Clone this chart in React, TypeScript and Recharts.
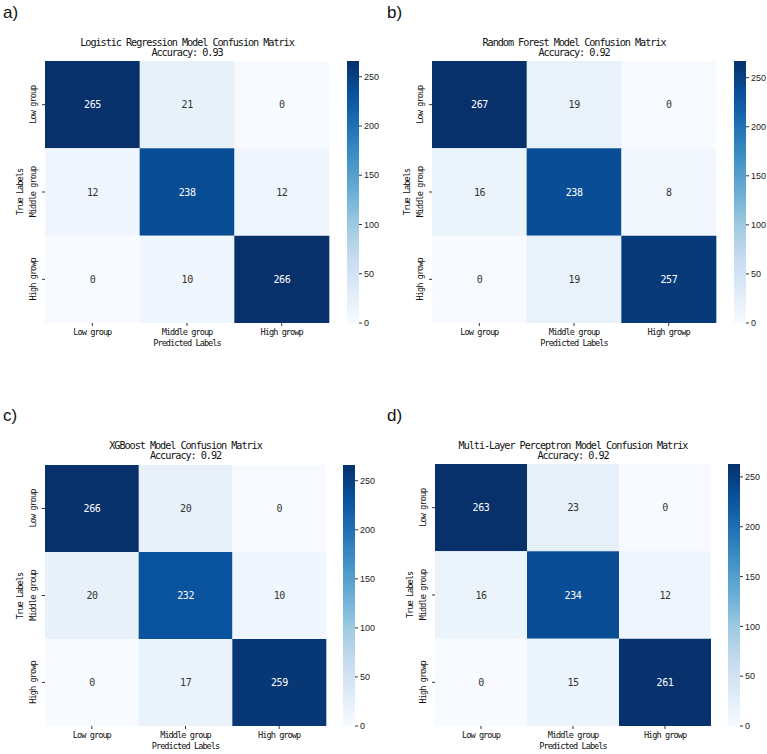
import React from "react"
import { BarChart, Bar, XAxis, YAxis, Cell, LabelList } from "recharts"

// confusion matrices: rows = true class, columns = predicted class
const classLabels = ["Low group", "Middle group", "High growp"]
const lrMatrix = [
    [265, 21, 0],
    [12, 238, 12],
    [0, 10, 266]
]
const rfMatrix = [
    [267, 19, 0],
    [16, 238, 8],
    [0, 19, 257]
]
const xgbMatrix = [
    [266, 20, 0],
    [20, 232, 10],
    [0, 17, 259]
]
const mlpMatrix = [
    [263, 23, 0],
    [16, 234, 12],
    [0, 15, 261]
]
const modelNames = ["Logistic Regression", "Random Forest", "XGBoost", "Multi-Layer Perceptron"]
const accuracies = [0.93, 0.92, 0.92, 0.92]
const colorbarTicks = [0, 50, 100, 150, 200, 250]

// matplotlib "Blues"
const BLUES = ["#f7fbff", "#deebf7", "#c6dbef", "#9ecae1", "#6baed6", "#4292c6", "#2171b5", "#08519c", "#08306b"]

const hexToRgb = (h: string) => [1, 3, 5].map(i => parseInt(h.slice(i, i + 2), 16))

function bluesRgb(t: number) {
    const c = Math.max(0, Math.min(1, t)) * (BLUES.length - 1)
    const i = Math.min(Math.floor(c), BLUES.length - 2)
    const f = c - i
    const a = hexToRgb(BLUES[i])
    const b = hexToRgb(BLUES[i + 1])
    return a.map((v, k) => Math.round(v + (b[k] - v) * f))
}

const rgbStr = (c: number[]) => `rgb(${c[0]},${c[1]},${c[2]})`

function luminance(c: number[]) {
    const lin = c.map(v => {
        const s = v / 255
        return s <= 0.03928 ? s / 12.92 : Math.pow((s + 0.055) / 1.055, 2.4)
    })
    return 0.2126 * lin[0] + 0.7152 * lin[1] + 0.0722 * lin[2]
}

const MONO = "'DejaVu Sans Mono', monospace"
const SANS = "'Liberation Sans', Arial, sans-serif"

type Box = { x: number; y: number; w: number; h: number }

type PanelProps = {
    id: string
    letter: string
    letterPos: [number, number]
    title: string
    accuracy: number
    matrix: number[][]
    heat: Box
    cbarX: number
    titleY: number
}

function Panel({ id, letter, letterPos, title, accuracy, matrix, heat, cbarX, titleY }: PanelProps) {
    const vmax = Math.max(...matrix.flat())
    const rows = classLabels.map((name, c) => ({
        name,
        r0: 1,
        r1: 1,
        r2: 1,
        v0: matrix[0][c],
        v1: matrix[1][c],
        v2: matrix[2][c]
    }))

    const mL = 20
    const yW = 25
    const mT = 10
    const xH = 30
    const mR = 4
    const mB = 2
    const cx = heat.x + heat.w / 2

    const renderCellLabel = (props: any) => {
        const { x = 0, y = 0, width = 0, height = 0, value } = props
        const col = bluesRgb(Number(value) / vmax)
        const fill = luminance(col) > 0.408 ? "#333" : "#fff"
        return (
            <text
                x={x + width / 2}
                y={y + height / 2}
                fill={fill}
                fontSize={10}
                fontFamily={MONO}
                letterSpacing={-0.4}
                textAnchor="middle"
                dominantBaseline="central"
            >
                {value}
            </text>
        )
    }

    const renderXTick = (props: any) => {
        const { x, y, payload } = props
        return (
            <text x={x} y={y + 4} fill="#111" fontSize={8.6} fontFamily={MONO} letterSpacing={-0.95} textAnchor="middle" dominantBaseline="central">
                {payload.value}
            </text>
        )
    }

    const renderYTick = (props: any) => {
        const { x, y, payload } = props
        const label = classLabels[Math.floor(payload.value)]
        const tx = x - 7
        return (
            <text
                x={tx}
                y={y}
                transform={`rotate(-90 ${tx} ${y})`}
                fill="#111"
                fontSize={8.6}
                fontFamily={MONO}
                letterSpacing={-0.95}
                textAnchor="middle"
                dominantBaseline="central"
            >
                {label}
            </text>
        )
    }

    const textStyle: React.CSSProperties = {
        position: "absolute",
        whiteSpace: "nowrap",
        fontFamily: MONO,
        color: "#111",
        transform: "translate(-50%, -50%)",
        lineHeight: 1
    }

    const cbW = 12
    const cbPad = 6
    const gradId = `cbar-${id}`

    return (
        <>
            <div style={{ position: "absolute", left: letterPos[0], top: letterPos[1], fontFamily: SANS, fontSize: 17, lineHeight: 1, color: "#111" }}>
                {letter}
            </div>
            <div style={{ ...textStyle, left: cx, top: titleY, fontSize: 10.2, letterSpacing: -1.05 }}>
                {title} Model Confusion Matrix
            </div>
            <div style={{ ...textStyle, left: cx, top: titleY + 9.5, fontSize: 10.2, letterSpacing: -1.05 }}>
                Accuracy: {accuracy.toFixed(2)}
            </div>
            <div style={{ ...textStyle, left: cx, top: heat.y + heat.h + 20, fontSize: 8.6, letterSpacing: -0.95 }}>
                Predicted Labels
            </div>
            <div
                style={{
                    ...textStyle,
                    left: heat.x - 25,
                    top: heat.y + heat.h / 2,
                    fontSize: 8.6,
                    letterSpacing: -0.95,
                    transform: "translate(-50%, -50%) rotate(-90deg)"
                }}
            >
                True Labels
            </div>

            <div style={{ position: "absolute", left: heat.x - mL - yW, top: heat.y - mT }}>
                <BarChart
                    width={mL + yW + heat.w + mR}
                    height={mT + heat.h + xH + mB}
                    data={rows}
                    margin={{ top: mT, right: mR, bottom: mB, left: mL }}
                    barCategoryGap={0}
                    barGap={0}
                >
                    <XAxis
                        dataKey="name"
                        type="category"
                        height={xH}
                        axisLine={false}
                        tickSize={3}
                        tickMargin={2}
                        tickLine={{ stroke: "#333" }}
                        interval={0}
                        tick={renderXTick}
                    />
                    <YAxis
                        type="number"
                        domain={[0, 3]}
                        reversed
                        ticks={[0.5, 1.5, 2.5]}
                        width={yW}
                        axisLine={false}
                        tickSize={3}
                        tickMargin={2}
                        tickLine={{ stroke: "#333" }}
                        interval={0}
                        tick={renderYTick}
                    />
                    {[0, 1, 2].map(r => (
                        <Bar key={r} dataKey={`r${r}`} stackId="cm" isAnimationActive={false}>
                            {rows.map((row, c) => (
                                <Cell key={`${r}-${c}`} fill={rgbStr(bluesRgb(matrix[r][c] / vmax))} />
                            ))}
                            <LabelList dataKey={`v${r}`} content={renderCellLabel} />
                        </Bar>
                    ))}
                </BarChart>
            </div>

            <div style={{ position: "absolute", left: cbarX, top: heat.y - cbPad }}>
                <BarChart
                    width={cbW + 32}
                    height={heat.h + cbPad * 2}
                    data={[{ k: "cb", v: vmax }]}
                    margin={{ top: cbPad, right: 0, bottom: cbPad, left: 0 }}
                    barCategoryGap={0}
                >
                    <defs>
                        <linearGradient id={gradId} x1="0" y1="1" x2="0" y2="0">
                            {BLUES.map((c, i) => (
                                <stop key={c} offset={`${(i / (BLUES.length - 1)) * 100}%`} stopColor={c} />
                            ))}
                        </linearGradient>
                    </defs>
                    <XAxis dataKey="k" hide />
                    <YAxis
                        orientation="right"
                        type="number"
                        domain={[0, vmax]}
                        ticks={colorbarTicks}
                        width={32}
                        axisLine={false}
                        tickSize={3}
                        tickMargin={2}
                        tickLine={{ stroke: "#333" }}
                        interval={0}
                        tick={{ fontSize: 9, fill: "#222", fontFamily: SANS }}
                    />
                    <Bar dataKey="v" fill={`url(#${gradId})`} isAnimationActive={false} />
                </BarChart>
            </div>
        </>
    )
}

export default function App() {
    return (
        <div style={{ position: "absolute", left: 0, top: 0, width: 767, height: 754, background: "#fff", overflow: "hidden" }}>
            <Panel
                id="lr"
                letter="a)"
                letterPos={[3, 4]}
                title={modelNames[0]}
                accuracy={accuracies[0]}
                matrix={lrMatrix}
                heat={{ x: 45, y: 61, w: 284, h: 262 }}
                cbarX={347}
                titleY={43}
            />
            <Panel
                id="rf"
                letter="b)"
                letterPos={[387, 4]}
                title={modelNames[1]}
                accuracy={accuracies[1]}
                matrix={rfMatrix}
                heat={{ x: 432, y: 61, w: 284, h: 262 }}
                cbarX={734}
                titleY={43}
            />
            <Panel
                id="xgb"
                letter="c)"
                letterPos={[3, 407]}
                title={modelNames[2]}
                accuracy={accuracies[2]}
                matrix={xgbMatrix}
                heat={{ x: 45, y: 465, w: 281, h: 261 }}
                cbarX={343}
                titleY={446}
            />
            <Panel
                id="mlp"
                letter="d)"
                letterPos={[387, 407]}
                title={modelNames[3]}
                accuracy={accuracies[3]}
                matrix={mlpMatrix}
                heat={{ x: 435, y: 464, w: 276, h: 262 }}
                cbarX={728}
                titleY={446}
            />
        </div>
    )
}
